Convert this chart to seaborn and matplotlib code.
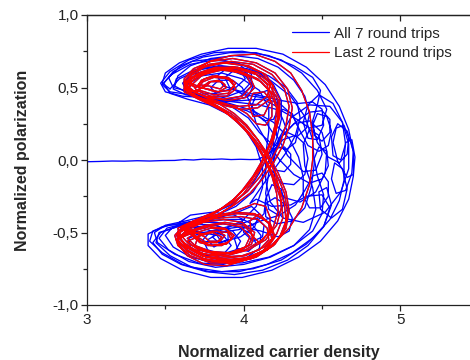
import numpy as np
import pandas as pd
import seaborn as sns
import matplotlib
matplotlib.use("Agg")
import matplotlib.pyplot as plt
from matplotlib.lines import Line2D
from matplotlib.ticker import FixedLocator, FuncFormatter

# Phase-space trajectory (carrier density N, polarization P), one list per round trip
trip_1 = [
    (3.00, -0.012), (3.08, -0.010), (3.16, -0.007), (3.24, -0.008), (3.32, -0.005), (3.40, -0.007),
    (3.48, -0.004), (3.56, -0.003), (3.62, 0.003), (3.68, 0.000), (3.74, 0.006), (3.80, 0.004),
    (3.86, 0.007), (3.92, 0.003), (3.98, 0.005), (4.04, 0.003), (4.09, 0.004),
    (4.14, 0.03), (4.20, 0.08), (4.26, 0.09), (4.30, 0.04), (4.30, -0.03), (4.26, -0.08), (4.20, -0.07),
    (4.17, -0.02), (4.19, 0.06), (4.25, 0.14), (4.33, 0.17), (4.39, 0.11), (4.41, 0.01), (4.39, -0.10),
    (4.32, -0.17), (4.24, -0.16), (4.19, -0.08), (4.19, 0.04), (4.24, 0.16), (4.32, 0.25), (4.42, 0.27),
    (4.50, 0.19), (4.53, 0.06), (4.52, -0.09), (4.46, -0.22), (4.36, -0.29), (4.26, -0.26), (4.20, -0.16),
    (4.19, -0.02), (4.22, 0.14), (4.30, 0.29), (4.42, 0.38), (4.55, 0.37), (4.63, 0.26), (4.67, 0.11),
    (4.67, -0.06), (4.62, -0.22), (4.52, -0.36), (4.38, -0.43), (4.25, -0.40), (4.17, -0.29), (4.14, -0.14),
    (4.14, 0.03), (4.16, 0.20), (4.16, 0.36), (4.10, 0.48), (3.99, 0.56), (3.86, 0.60), (3.73, 0.58),
    (3.64, 0.52), (3.65, 0.46), (3.74, 0.42), (3.87, 0.41), (3.98, 0.44), (4.05, 0.51), (4.05, 0.59),
    (3.97, 0.66), (3.83, 0.70), (3.67, 0.68), (3.55, 0.61), (3.49, 0.53), (3.53, 0.46), (3.64, 0.42),
    (3.78, 0.38), (3.91, 0.31), (4.01, 0.21), (4.08, 0.09), (4.12, -0.05), (4.12, -0.19), (4.08, -0.32),
    (3.99, -0.42), (3.87, -0.48), (3.74, -0.50), (3.63, -0.48), (3.59, -0.43), (3.66, -0.38), (3.80, -0.36),
    (3.94, -0.38), (4.05, -0.44), (4.11, -0.52), (4.10, -0.61), (4.01, -0.68), (3.87, -0.72), (3.71, -0.71),
    (3.56, -0.65), (3.45, -0.57), (3.43, -0.50), (3.50, -0.45), (3.63, -0.42), (3.78, -0.38), (3.92, -0.31),
    (4.03, -0.21), (4.10, -0.09),
]

trip_2 = [
    (4.10, -0.09), (4.16, 0.04), (4.24, 0.16), (4.33, 0.26), (4.42, 0.33), (4.50, 0.34), (4.55, 0.28),
    (4.55, 0.19), (4.50, 0.13), (4.45, 0.17), (4.44, 0.27), (4.47, 0.38), (4.49, 0.48), (4.44, 0.57),
    (4.32, 0.65), (4.16, 0.72), (3.99, 0.75), (3.81, 0.74), (3.65, 0.69), (3.53, 0.61), (3.47, 0.53),
    (3.50, 0.47), (3.61, 0.44), (3.76, 0.43), (3.90, 0.44), (4.00, 0.48), (4.05, 0.54), (4.02, 0.60),
    (3.94, 0.62), (3.88, 0.57), (3.91, 0.50), (4.00, 0.45), (4.12, 0.43), (4.23, 0.39), (4.31, 0.31),
    (4.36, 0.20), (4.41, 0.10), (4.48, 0.06), (4.54, 0.10), (4.56, 0.20), (4.53, 0.30), (4.47, 0.32),
    (4.44, 0.24), (4.47, 0.12), (4.54, 0.02), (4.61, -0.02), (4.66, 0.04), (4.67, 0.15), (4.64, 0.24),
    (4.59, 0.22), (4.57, 0.12), (4.60, -0.01), (4.66, -0.12), (4.70, -0.10), (4.71, 0.02), (4.69, 0.14),
    (4.65, 0.12), (4.64, 0.00), (4.64, -0.14), (4.61, -0.28), (4.55, -0.41), (4.45, -0.53), (4.31, -0.64),
    (4.15, -0.72), (3.97, -0.77), (3.78, -0.77), (3.61, -0.72), (3.48, -0.64), (3.40, -0.56), (3.42, -0.49),
    (3.52, -0.45), (3.67, -0.43), (3.83, -0.43), (3.96, -0.46), (4.05, -0.51), (4.08, -0.58), (4.03, -0.63),
    (3.96, -0.61), (3.94, -0.54), (4.00, -0.47), (4.11, -0.42), (4.23, -0.38), (4.33, -0.31), (4.39, -0.21),
    (4.44, -0.11), (4.50, -0.09), (4.54, -0.15), (4.54, -0.25), (4.49, -0.33), (4.42, -0.33), (4.38, -0.25),
    (4.38, -0.12), (4.35, 0.02), (4.29, 0.15), (4.19, 0.26), (4.06, 0.34), (3.91, 0.39), (3.76, 0.43),
    (3.63, 0.47), (3.56, 0.51),
]

trip_3 = [
    (3.56, 0.51), (3.58, 0.58), (3.66, 0.65), (3.79, 0.70), (3.94, 0.72), (4.09, 0.70), (4.22, 0.64),
    (4.32, 0.55), (4.39, 0.44), (4.42, 0.32), (4.40, 0.22), (4.34, 0.16), (4.28, 0.19), (4.25, 0.28),
    (4.21, 0.37), (4.12, 0.42), (3.99, 0.41), (3.86, 0.40), (3.74, 0.42), (3.64, 0.47), (3.61, 0.53),
    (3.67, 0.59), (3.78, 0.62), (3.91, 0.62), (4.01, 0.58), (4.06, 0.51), (4.03, 0.44), (3.94, 0.41),
    (3.84, 0.44), (3.79, 0.50), (3.84, 0.55), (3.93, 0.55), (3.99, 0.50), (4.03, 0.42), (4.07, 0.33),
    (4.13, 0.27), (4.19, 0.28), (4.22, 0.35), (4.21, 0.44), (4.15, 0.48), (4.08, 0.45), (4.05, 0.37),
    (4.08, 0.25), (4.15, 0.12), (4.23, 0.00), (4.32, -0.10), (4.42, -0.16), (4.50, -0.13), (4.54, -0.04),
    (4.53, 0.06), (4.48, 0.09), (4.45, 0.01), (4.47, -0.11), (4.51, -0.24), (4.50, -0.37), (4.44, -0.49),
    (4.32, -0.59), (4.16, -0.67), (3.99, -0.71), (3.82, -0.71), (3.66, -0.67), (3.55, -0.60), (3.50, -0.52),
    (3.55, -0.46), (3.68, -0.44), (3.82, -0.45), (3.93, -0.49), (3.98, -0.56), (3.95, -0.62), (3.86, -0.65),
    (3.77, -0.62), (3.74, -0.55), (3.79, -0.49), (3.90, -0.46), (4.01, -0.43), (4.08, -0.40), (4.13, -0.45),
    (4.12, -0.53), (4.06, -0.56), (4.00, -0.50), (3.99, -0.41),
    (3.90, -0.41), (3.76, -0.42), (3.60, -0.45), (3.47, -0.50), (3.42, -0.57), (3.48, -0.65), (3.60, -0.72),
    (3.76, -0.77), (3.94, -0.79), (4.12, -0.76), (4.28, -0.69), (4.41, -0.59), (4.51, -0.46), (4.55, -0.33),
    (4.50, -0.24), (4.40, -0.25), (4.30, -0.31), (4.18, -0.32), (4.08, -0.27),
    (4.04, -0.30), (4.11, -0.19), (4.19, -0.07),
    (4.27, 0.05), (4.33, 0.17), (4.36, 0.29), (4.34, 0.40), (4.27, 0.50), (4.16, 0.58), (4.02, 0.63),
    (3.86, 0.65), (3.71, 0.62), (3.59, 0.56), (3.53, 0.49),
]

trip_4 = [
    (3.53, 0.49), (3.48, 0.53), (3.50, 0.60), (3.59, 0.67), (3.73, 0.73), (3.90, 0.77), (4.08, 0.77),
    (4.25, 0.73), (4.40, 0.64), (4.52, 0.52), (4.61, 0.37), (4.67, 0.21), (4.70, 0.05), (4.70, -0.11),
    (4.67, -0.27), (4.60, -0.42), (4.49, -0.56), (4.35, -0.67), (4.18, -0.76), (3.99, -0.81), (3.79, -0.81),
    (3.61, -0.76), (3.47, -0.68), (3.39, -0.59), (3.39, -0.51), (3.48, -0.46), (3.63, -0.43), (3.79, -0.41),
    (3.94, -0.37), (4.05, -0.32), (4.10, -0.37), (4.07, -0.46), (3.98, -0.53), (3.85, -0.57), (3.73, -0.56),
    (3.66, -0.51), (3.70, -0.46), (3.82, -0.45), (3.90, -0.49), (3.90, -0.55), (3.84, -0.57), (3.80, -0.53),
    (3.86, -0.48), (3.98, -0.46), (4.11, -0.49), (4.22, -0.53), (4.29, -0.49), (4.31, -0.40), (4.27, -0.31),
    (4.20, -0.26), (4.14, -0.30), (4.14, -0.39), (4.21, -0.44), (4.31, -0.42), (4.39, -0.33), (4.43, -0.19),
    (4.45, -0.03), (4.44, 0.14), (4.39, 0.30), (4.30, 0.44), (4.17, 0.55), (4.01, 0.62), (3.84, 0.65),
    (3.68, 0.62), (3.57, 0.56), (3.55, 0.49), (3.63, 0.45), (3.78, 0.42), (3.92, 0.37), (4.03, 0.29),
    (4.10, 0.19), (4.18, 0.11), (4.27, 0.07), (4.33, 0.12), (4.35, 0.22), (4.31, 0.32), (4.25, 0.35),
    (4.20, 0.29), (4.21, 0.17), (4.28, 0.03), (4.38, -0.08), (4.46, -0.07), (4.50, 0.04), (4.48, 0.17),
    (4.42, 0.21), (4.38, 0.11), (4.39, -0.04), (4.44, -0.19), (4.46, -0.34), (4.42, -0.48), (4.32, -0.59),
    (4.17, -0.67), (4.00, -0.72), (3.82, -0.74), (3.65, -0.70), (3.52, -0.62), (3.46, -0.54), (3.51, -0.47),
    (3.65, -0.43), (3.81, -0.39), (3.95, -0.32), (4.06, -0.22), (4.13, -0.10), (4.17, 0.03),
]

trip_5 = [
    (4.17, 0.03), (4.21, 0.15), (4.24, 0.28), (4.24, 0.41), (4.19, 0.52), (4.09, 0.61), (3.96, 0.67),
    (3.81, 0.69), (3.66, 0.66), (3.54, 0.59), (3.48, 0.52), (3.53, 0.47), (3.66, 0.45), (3.82, 0.46),
    (3.95, 0.50), (4.01, 0.56), (3.98, 0.62), (3.89, 0.63), (3.83, 0.58), (3.87, 0.51), (3.99, 0.47),
    (4.12, 0.44), (4.24, 0.41), (4.35, 0.39), (4.44, 0.40), (4.50, 0.35), (4.51, 0.24), (4.47, 0.14),
    (4.41, 0.15), (4.38, 0.26), (4.41, 0.38), (4.48, 0.45), (4.57, 0.39), (4.63, 0.26), (4.65, 0.11),
    (4.62, 0.00), (4.57, 0.03), (4.56, 0.16), (4.60, 0.25), (4.66, 0.20), (4.70, 0.06), (4.69, -0.09),
    (4.65, -0.21), (4.59, -0.23), (4.56, -0.13), (4.58, -0.02), (4.63, -0.06), (4.66, -0.20), (4.63, -0.34),
    (4.56, -0.40), (4.49, -0.34), (4.48, -0.22), (4.53, -0.19), (4.56, -0.31), (4.51, -0.46), (4.40, -0.58),
    (4.24, -0.69), (4.06, -0.75), (3.86, -0.77), (3.67, -0.74), (3.53, -0.66), (3.44, -0.57), (3.46, -0.50),
    (3.58, -0.46), (3.74, -0.47), (3.87, -0.52), (3.92, -0.59), (3.87, -0.65), (3.76, -0.66), (3.66, -0.61),
    (3.65, -0.54), (3.73, -0.50), (3.83, -0.52), (3.86, -0.57), (3.81, -0.60), (3.77, -0.55), (3.85, -0.50),
    (3.97, -0.48), (4.07, -0.44), (4.13, -0.37), (4.14, -0.27), (4.18, -0.17), (4.24, -0.20), (4.26, -0.30),
    (4.22, -0.38), (4.16, -0.34), (4.14, -0.23), (4.16, -0.09), (4.19, 0.05), (4.19, 0.18), (4.13, 0.28),
    (4.02, 0.34), (3.88, 0.38), (3.75, 0.42), (3.66, 0.47),
    (3.55, 0.50), (3.52, 0.57), (3.60, 0.65), (3.74, 0.71), (3.91, 0.74), (4.08, 0.74), (4.24, 0.69),
    (4.37, 0.60), (4.47, 0.48), (4.53, 0.35), (4.50, 0.24), (4.42, 0.22), (4.34, 0.28), (4.24, 0.34),
    (4.10, 0.38), (3.94, 0.40), (3.80, 0.42), (3.66, 0.47),
]

trip_6 = [
    (3.66, 0.47), (3.72, 0.48), (3.81, 0.45), (3.90, 0.46), (3.94, 0.51), (3.90, 0.56), (3.81, 0.57),
    (3.74, 0.54), (3.71, 0.50), (3.77, 0.49), (3.84, 0.47), (3.89, 0.50), (3.86, 0.54), (3.79, 0.54),
    (3.76, 0.51), (3.70, 0.48),
    (3.64, 0.47), (3.73, 0.42), (3.83, 0.37), (3.92, 0.30), (4.00, 0.22), (4.07, 0.12), (4.13, 0.01),
    (4.18, -0.11), (4.21, -0.23), (4.22, -0.35), (4.19, -0.46), (4.12, -0.55), (4.01, -0.62), (3.88, -0.65),
    (3.75, -0.63), (3.65, -0.58), (3.60, -0.52),
    (3.65, -0.49), (3.76, -0.45), (3.88, -0.43), (4.00, -0.45), (4.06, -0.52), (4.03, -0.59), (3.93, -0.64),
    (3.80, -0.64), (3.70, -0.60), (3.64, -0.54),
    (3.70, -0.50), (3.79, -0.47), (3.89, -0.48), (3.93, -0.53), (3.89, -0.58), (3.79, -0.59), (3.72, -0.56),
    (3.69, -0.52),
    (3.60, -0.46), (3.70, -0.41), (3.81, -0.36), (3.92, -0.30), (4.02, -0.22), (4.10, -0.12), (4.17, -0.01),
    (4.23, 0.11), (4.27, 0.24), (4.29, 0.37), (4.26, 0.49), (4.18, 0.59), (4.06, 0.66), (3.92, 0.68),
    (3.78, 0.66), (3.67, 0.61), (3.62, 0.54),
    (3.64, 0.47), (3.74, 0.42), (3.86, 0.38), (3.98, 0.35), (4.09, 0.36), (4.17, 0.42), (4.19, 0.51),
    (4.14, 0.59), (4.03, 0.65), (3.89, 0.67), (3.76, 0.65), (3.67, 0.59), (3.63, 0.52),
    (3.70, 0.46), (3.82, 0.41), (3.94, 0.37), (4.02, 0.32), (4.08, 0.25), (4.14, 0.24), (4.18, 0.30),
    (4.18, 0.40), (4.13, 0.47), (4.06, 0.46), (4.03, 0.38), (4.06, 0.30), (4.13, 0.31), (4.17, 0.40),
    (4.15, 0.52), (4.07, 0.60), (3.94, 0.64), (3.80, 0.63), (3.69, 0.58), (3.63, 0.52),
    (3.66, 0.46), (3.76, 0.41), (3.86, 0.35), (3.95, 0.28), (4.03, 0.19), (4.10, 0.08), (4.16, -0.04),
    (4.20, -0.16), (4.24, -0.28), (4.25, -0.40), (4.21, -0.51), (4.13, -0.60), (4.01, -0.66), (3.87, -0.68),
    (3.74, -0.66), (3.64, -0.60), (3.59, -0.53),
    (3.60, -0.48), (3.70, -0.43), (3.83, -0.39), (3.96, -0.37), (4.08, -0.38), (4.17, -0.44), (4.20, -0.53),
    (4.15, -0.61), (4.04, -0.67), (3.90, -0.69), (3.76, -0.67), (3.65, -0.61), (3.59, -0.54),
    (3.68, -0.50), (3.76, -0.51), (3.83, -0.49), (3.88, -0.52), (3.85, -0.56), (3.78, -0.56), (3.75, -0.53),
    (3.68, -0.49),
    (3.62, -0.47), (3.71, -0.42), (3.81, -0.37), (3.91, -0.30), (3.99, -0.21), (4.06, -0.11), (4.12, 0.00),
    (4.17, 0.12), (4.20, 0.24), (4.21, 0.36), (4.17, 0.47), (4.09, 0.56), (3.98, 0.61), (3.85, 0.63),
    (3.73, 0.60), (3.65, 0.55), (3.62, 0.49),
    (3.68, 0.47), (3.78, 0.43), (3.90, 0.41), (4.01, 0.43), (4.07, 0.50), (4.04, 0.57), (3.95, 0.62),
    (3.83, 0.62), (3.73, 0.58), (3.67, 0.52),
    (3.63, 0.48), (3.72, 0.43), (3.82, 0.38), (3.92, 0.32), (4.01, 0.24), (4.09, 0.14), (4.16, 0.03),
    (4.22, -0.09), (4.27, -0.22), (4.29, -0.35), (4.27, -0.47), (4.20, -0.58), (4.09, -0.66), (3.95, -0.70),
    (3.80, -0.70), (3.67, -0.65), (3.59, -0.58), (3.57, -0.51),
    (3.66, -0.46), (3.78, -0.41), (3.90, -0.37), (4.00, -0.33), (4.07, -0.30), (4.14, -0.32), (4.17, -0.40),
    (4.16, -0.50), (4.10, -0.57), (4.05, -0.52), (4.04, -0.42), (4.10, -0.37), (4.16, -0.44), (4.18, -0.55),
    (4.12, -0.63), (4.00, -0.68), (3.86, -0.69), (3.73, -0.66), (3.63, -0.60), (3.59, -0.53),
    (3.68, -0.49), (3.78, -0.46), (3.88, -0.47), (3.94, -0.52), (3.90, -0.57), (3.80, -0.59), (3.72, -0.57),
    (3.67, -0.52),
    (3.64, -0.45), (3.74, -0.40), (3.85, -0.34), (3.95, -0.26), (4.03, -0.17), (4.10, -0.06), (4.15, 0.06),
    (4.20, 0.18), (4.23, 0.30), (4.23, 0.42), (4.18, 0.52), (4.09, 0.60), (3.96, 0.64), (3.82, 0.64),
    (3.71, 0.60), (3.63, 0.54),
]

trip_7 = [
    (3.63, 0.54), (3.65, 0.49), (3.75, 0.44), (3.87, 0.42), (3.99, 0.44), (4.05, 0.51), (4.02, 0.58),
    (3.92, 0.62), (3.80, 0.62), (3.71, 0.58), (3.66, 0.53),
    (3.73, 0.50), (3.82, 0.47), (3.91, 0.48), (3.95, 0.53), (3.90, 0.57), (3.80, 0.58), (3.73, 0.55),
    (3.70, 0.50),
    (3.63, 0.53), (3.68, 0.61), (3.78, 0.68), (3.92, 0.72), (4.07, 0.73), (4.20, 0.68), (4.30, 0.60),
    (4.37, 0.48), (4.42, 0.33), (4.44, 0.17), (4.44, 0.00), (4.42, -0.17), (4.37, -0.33), (4.29, -0.47),
    (4.18, -0.59), (4.04, -0.68), (3.89, -0.73), (3.75, -0.72), (3.64, -0.66), (3.58, -0.58), (3.58, -0.51),
    (3.63, -0.47), (3.74, -0.43), (3.87, -0.41), (3.99, -0.43), (4.07, -0.50), (4.05, -0.58), (3.95, -0.64),
    (3.82, -0.65), (3.71, -0.62), (3.64, -0.56),
    (3.73, -0.52), (3.80, -0.50), (3.86, -0.53), (3.83, -0.57), (3.76, -0.57), (3.72, -0.54),
    (3.61, -0.48), (3.71, -0.43), (3.83, -0.38), (3.94, -0.31), (4.04, -0.23), (4.12, -0.13), (4.19, -0.02),
    (4.25, 0.10), (4.29, 0.23), (4.31, 0.36), (4.28, 0.49), (4.20, 0.60), (4.08, 0.67), (3.93, 0.70),
    (3.79, 0.68), (3.68, 0.63), (3.62, 0.56),
    (3.62, 0.49), (3.72, 0.43), (3.85, 0.39), (3.97, 0.37), (4.08, 0.38), (4.15, 0.44), (4.17, 0.52),
    (4.12, 0.60), (4.01, 0.65), (3.87, 0.67), (3.75, 0.64), (3.66, 0.58),
    (3.65, 0.49), (3.74, 0.44), (3.84, 0.39), (3.94, 0.32), (4.02, 0.24), (4.09, 0.14), (4.15, 0.03),
    (4.20, -0.09), (4.23, -0.21), (4.24, -0.33), (4.21, -0.45), (4.14, -0.55), (4.03, -0.62), (3.89, -0.66),
    (3.75, -0.65), (3.65, -0.60), (3.59, -0.54),
    (3.58, -0.47), (3.68, -0.42), (3.81, -0.38), (3.95, -0.36), (4.07, -0.37), (4.16, -0.43), (4.19, -0.52),
    (4.15, -0.61), (4.05, -0.68), (3.91, -0.71), (3.76, -0.69), (3.64, -0.63), (3.57, -0.55),
    (3.63, -0.49), (3.72, -0.44), (3.82, -0.39), (3.92, -0.32), (4.00, -0.23), (4.07, -0.13), (4.13, -0.02),
    (4.18, 0.10), (4.21, 0.22), (4.22, 0.34), (4.19, 0.45), (4.11, 0.54), (4.00, 0.60), (3.86, 0.62),
    (3.74, 0.59), (3.66, 0.54),
    (3.70, 0.48), (3.79, 0.44), (3.89, 0.44), (3.95, 0.49), (3.92, 0.55), (3.83, 0.58), (3.75, 0.56),
    (3.71, 0.52), (3.78, 0.51), (3.85, 0.49), (3.88, 0.52), (3.84, 0.55), (3.78, 0.54),
    (3.67, 0.45), (3.77, 0.40), (3.87, 0.34), (3.96, 0.26), (4.04, 0.17), (4.11, 0.06), (4.17, -0.06),
    (4.22, -0.18), (4.26, -0.30), (4.27, -0.42), (4.23, -0.53), (4.15, -0.62), (4.03, -0.68), (3.88, -0.70),
    (3.74, -0.68), (3.64, -0.62), (3.58, -0.55),
    (3.64, -0.50), (3.75, -0.46), (3.87, -0.44), (3.98, -0.46), (4.04, -0.53), (4.01, -0.60), (3.91, -0.64),
    (3.79, -0.63), (3.69, -0.59),
    (3.71, -0.52), (3.80, -0.49), (3.90, -0.50), (3.92, -0.55), (3.86, -0.59), (3.77, -0.59), (3.71, -0.55),
    (3.63, -0.46), (3.73, -0.41), (3.84, -0.35), (3.94, -0.27), (4.02, -0.18), (4.09, -0.07), (4.14, 0.05),
    (4.19, 0.17), (4.22, 0.29), (4.22, 0.41), (4.17, 0.51), (4.08, 0.59), (3.95, 0.63), (3.81, 0.63),
    (3.70, 0.59), (3.63, 0.53),
    (3.62, 0.47), (3.71, 0.42), (3.81, 0.37), (3.91, 0.31), (4.00, 0.23), (4.08, 0.13), (4.15, 0.02),
    (4.21, -0.10), (4.26, -0.23), (4.28, -0.36), (4.26, -0.48), (4.19, -0.59), (4.08, -0.67), (3.94, -0.71),
    (3.79, -0.71), (3.66, -0.66), (3.58, -0.59), (3.56, -0.52),
    (3.61, -0.46), (3.72, -0.42), (3.85, -0.40), (3.98, -0.39), (4.09, -0.41), (4.15, -0.47), (4.16, -0.55),
    (4.10, -0.62), (3.99, -0.66), (3.85, -0.67), (3.72, -0.64), (3.63, -0.58),
]

all_trips = [trip_1, trip_2, trip_3, trip_4, trip_5, trip_6, trip_7]
last_trips = [trip_6, trip_7]

label_all = "All 7 round trips"
label_last = "Last 2 round trips"
color_all = "#0000ff"
color_last = "#ff0000"

x_major = [3, 4, 5]
x_minor = [3.5, 4.5]
y_major = [-1.0, -0.5, 0.0, 0.5, 1.0]
y_minor = [-0.75, -0.25, 0.25, 0.75]

frames = []
for k, trip in enumerate(all_trips, start=1):
    arr = np.asarray(trip)
    frames.append(pd.DataFrame({"N": arr[:, 0], "P": arr[:, 1], "trip": k, "set": label_all}))
for k, trip in enumerate(last_trips, start=6):
    arr = np.asarray(trip)
    frames.append(pd.DataFrame({"N": arr[:, 0], "P": arr[:, 1], "trip": k, "set": label_last}))
df = pd.concat(frames, ignore_index=True)

sns.set_theme(style="ticks")
plt.rcParams["font.family"] = ["Liberation Sans", "DejaVu Sans"]
plt.rcParams["axes.linewidth"] = 0.9
plt.rcParams["axes.edgecolor"] = "#222222"

fig = plt.figure(figsize=(4.7, 3.6), dpi=100)
ax = fig.add_axes([87 / 470, 55 / 360, 383 / 470, 290 / 360])

sns.lineplot(data=df, x="N", y="P", hue="set", units="trip", estimator=None, sort=False,
             palette={label_all: color_all, label_last: color_last}, linewidth=0.95,
             legend=False, ax=ax)

ax.set_xlim(3, 3 + 383 / 156.7)
ax.set_ylim(-1.0, 1.0)
ax.spines["right"].set_visible(False)

fmt = FuncFormatter(lambda v, pos: ("%.1f" % v).replace(".", ",").replace("-0,0", "0,0"))
ax.xaxis.set_major_locator(FixedLocator(x_major))
ax.xaxis.set_minor_locator(FixedLocator(x_minor))
ax.yaxis.set_major_locator(FixedLocator(y_major))
ax.yaxis.set_minor_locator(FixedLocator(y_minor))
ax.yaxis.set_major_formatter(fmt)
ax.xaxis.set_major_formatter(FuncFormatter(lambda v, pos: "%d" % v))
ax.tick_params(which="major", direction="out", length=4, width=0.9, labelsize=11,
               labelcolor="#222222", color="#222222", pad=2)
ax.tick_params(which="minor", direction="out", length=3, width=0.9, color="#222222")

top = ax.secondary_xaxis("top")
top.xaxis.set_major_locator(FixedLocator(x_major))
top.xaxis.set_minor_locator(FixedLocator(x_minor))
top.tick_params(which="major", direction="in", length=4, width=0.9, labeltop=False, color="#222222")
top.tick_params(which="minor", direction="in", length=3, width=0.9, color="#222222")

ax.set_xlabel("Normalized carrier density", fontsize=11.5, fontweight="bold", labelpad=13)
ax.set_ylabel("Normalized polarization", fontsize=11.5, fontweight="bold", labelpad=16)

handles = [Line2D([], [], color=color_all, linewidth=0.9),
           Line2D([], [], color=color_last, linewidth=0.9)]
ax.legend(handles, [label_all, label_last], frameon=False, loc="upper left",
          bbox_to_anchor=(0.535, 0.96), fontsize=11, handlelength=2.4, handletextpad=0.35,
          labelspacing=0.35, borderpad=0, borderaxespad=0)

fig.savefig("out.png", dpi=100)
